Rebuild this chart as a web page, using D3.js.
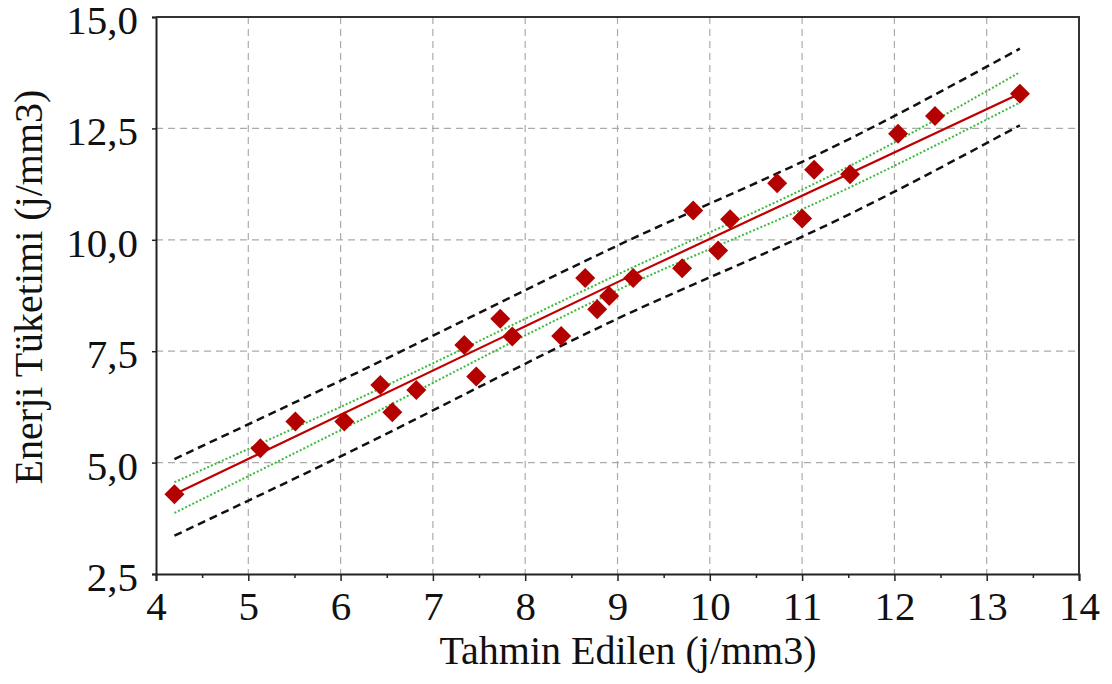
<!DOCTYPE html>
<html>
<head>
<meta charset="utf-8">
<script src="https://cdn.jsdelivr.net/npm/d3@7"></script>
<style>
  body { margin: 0; background: #fff; }
  svg text { font-family: "Liberation Serif", "Times New Roman", Times, serif; fill: #111; }
</style>
</head>
<body>
<svg id="chart"></svg>
<script>
// values
const predicted = [4.20, 5.13, 5.51, 6.04, 6.43, 6.56, 6.82, 7.34, 7.47, 7.73, 7.86, 8.39, 8.65, 8.78,
  8.91, 9.17, 9.70, 9.82, 10.09, 10.22, 10.73, 11.00, 11.13, 11.52, 12.04, 12.44, 13.36];
const measured = [4.29, 5.32, 5.92, 5.92, 6.74, 6.13, 6.63, 7.64, 6.93, 8.23, 7.83, 7.84, 9.14, 8.44,
  8.74, 9.14, 9.36, 10.66, 9.76, 10.46, 11.27, 10.48, 11.57, 11.47, 12.38, 12.78, 13.28];

// fitted line
const fitX = [4.2, 9.0, 13.36];
const fitY = [4.29, 9.05, 13.28];

// bands (green = confidence, black = prediction)
const bandX = [4.2, 6.0, 9.0, 11.5, 13.36];
const confUpper = [4.56, 6.25, 9.22, 11.64, 13.76];
const confLower = [3.87, 5.73, 8.87, 11.16, 13.08];
const predUpper = [5.08, 6.84, 9.87, 12.25, 14.29];
const predLower = [3.36, 5.14, 8.23, 10.56, 12.57];

const xTicks = [4, 5, 6, 7, 8, 9, 10, 11, 12, 13, 14];
const xMinorTicks = [4.5, 5.5, 6.5, 7.5, 8.5, 9.5, 10.5, 11.5, 12.5, 13.5];
const yTicks = [2.5, 5.0, 7.5, 10.0, 12.5, 15.0];

const xTitle = "Tahmin Edilen (j/mm3)";
const yTitle = "Enerji Tüketimi (j/mm3)";

const width = 1112, height = 684;
const plotLeft = 156, plotRight = 1079, plotTop = 17, plotBottom = 574;
const serif = '"Liberation Serif", "Times New Roman", Times, serif';

const svg = d3.select("#chart").attr("width", width).attr("height", height);

const x = d3.scaleLinear().domain([4, 14]).range([plotLeft, plotRight]);
const y = d3.scaleLinear().domain([2.5, 15]).range([plotBottom, plotTop]);

// grid
const grid = svg.append("g").attr("stroke", "#ababab").attr("stroke-width", 1.2)
  .attr("stroke-dasharray", "7,5");
grid.selectAll("line.v").data(xTicks.slice(1, -1)).enter().append("line")
  .attr("x1", d => x(d)).attr("x2", d => x(d)).attr("y1", plotTop).attr("y2", plotBottom);
grid.selectAll("line.h").data(yTicks.slice(1, -1)).enter().append("line")
  .attr("x1", plotLeft).attr("x2", plotRight).attr("y1", d => y(d)).attr("y2", d => y(d));

// axes
const fmt = d => d.toFixed(1).replace(".", ",");

const xAxis = svg.append("g").attr("transform", `translate(0,${plotBottom})`)
  .call(d3.axisBottom(x).tickValues(xTicks).tickSize(7).tickPadding(10).tickFormat(d3.format("d")));
svg.append("g").attr("transform", `translate(0,${plotBottom})`)
  .call(d3.axisBottom(x).tickValues(xMinorTicks).tickSize(4).tickFormat(""))
  .call(g => g.select(".domain").remove());

const yAxis = svg.append("g").attr("transform", `translate(${plotLeft},0)`)
  .call(d3.axisLeft(y).tickValues(yTicks).tickSize(4).tickPadding(14).tickFormat(fmt));

svg.selectAll("g").attr("font-family", serif);
svg.selectAll(".tick line").attr("stroke", "#222").attr("stroke-width", 1.5);
svg.selectAll(".domain").attr("stroke", "#222").attr("stroke-width", 2);
xAxis.selectAll("text").attr("font-size", 41).attr("fill", "#111");
yAxis.selectAll("text").attr("font-size", 41).attr("fill", "#111").attr("dy", "0.4em");

// frame top and right
svg.append("path")
  .attr("d", `M${plotLeft},${plotTop}H${plotRight}V${plotBottom}`)
  .attr("fill", "none").attr("stroke", "#333").attr("stroke-width", 2);

// bands
const bandLine = d3.line().x(d => x(d[0])).y(d => y(d[1])).curve(d3.curveMonotoneX);
const bands = [
  { v: predUpper, color: "#111", dash: "8,5", w: 2.5 },
  { v: predLower, color: "#111", dash: "8,5", w: 2.5 },
  { v: confUpper, color: "#3cba3c", dash: "2,2", w: 2 },
  { v: confLower, color: "#3cba3c", dash: "2,2", w: 2 }
];
svg.append("g").selectAll("path").data(bands).enter().append("path")
  .attr("d", b => bandLine(bandX.map((bx, i) => [bx, b.v[i]])))
  .attr("fill", "none")
  .attr("stroke", b => b.color)
  .attr("stroke-width", b => b.w)
  .attr("stroke-dasharray", b => b.dash);

// fitted line
svg.append("path")
  .attr("d", d3.line().x(d => x(d[0])).y(d => y(d[1]))(fitX.map((fx, i) => [fx, fitY[i]])))
  .attr("fill", "none").attr("stroke", "#c00000").attr("stroke-width", 2.2);

// points
const diamond = d3.symbol().type(d3.symbolSquare).size(200);
svg.append("g").selectAll("path").data(predicted).enter().append("path")
  .attr("d", diamond)
  .attr("transform", (d, i) => `translate(${x(d)},${y(measured[i])}) rotate(45)`)
  .attr("fill", "#b50000");

// titles
svg.append("text")
  .attr("x", 628).attr("y", 664)
  .attr("text-anchor", "middle").attr("font-size", 40).attr("font-family", serif)
  .text(xTitle);

svg.append("text")
  .attr("transform", "translate(42,287) rotate(-90)")
  .attr("text-anchor", "middle").attr("font-size", 40).attr("font-family", serif)
  .text(yTitle);
</script>
</body>
</html>
